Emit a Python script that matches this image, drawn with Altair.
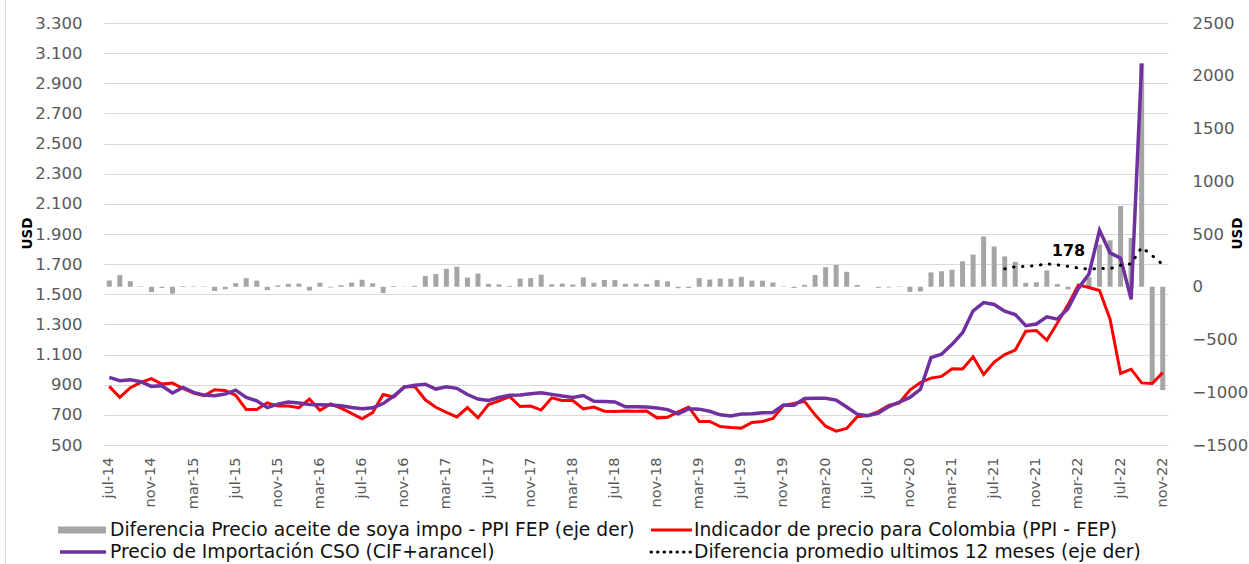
import altair as alt
import pandas as pd

# Meses jul-14 ... nov-22
abrev = ["ene", "feb", "mar", "abr", "may", "jun", "jul", "ago", "sep", "oct", "nov", "dic"]
meses = [f"{abrev[(6 + k) % 12]}-{14 + (6 + k) // 12}" for k in range(101)]
etiquetas = meses[::4]

# Indicador de precio para Colombia (PPI - FEP), USD
ppi_fep = [889, 816, 880, 915, 940, 904, 911, 875, 845, 827,
           867, 862, 830, 735, 735, 780, 758, 758, 748, 805,
           730, 772, 745, 710, 674, 715, 835, 818, 886, 888,
           800, 750, 716, 686, 748, 680, 768, 793, 822, 755,
           758, 732, 813, 795, 795, 740, 752, 724, 722, 726,
           724, 726, 680, 684, 720, 752, 656, 656, 622, 616,
           612, 650, 656, 676, 762, 775, 790, 700, 625, 592,
           610, 688, 695, 722, 762, 780, 865, 915, 944, 955,
           1006, 1004, 1085, 968, 1050, 1100, 1130, 1255, 1260, 1195,
           1310, 1430, 1562, 1545, 1525, 1335, 975, 1003, 912, 908,
           980]

# Precio de Importación CSO (CIF+arancel), USD
cif_arancel = [949, 927, 933, 920, 889, 893, 845, 882, 849, 831,
               827, 838, 864, 816, 793, 748, 771, 785, 778, 769,
               767, 765, 760, 749, 740, 747, 775, 825, 884, 897,
               903, 871, 886, 876, 835, 805, 795, 815, 830, 832,
               840, 847, 836, 825, 816, 828, 790, 788, 786, 754,
               754, 752, 745, 735, 706, 740, 738, 724, 700, 692,
               706, 708, 714, 716, 766, 764, 808, 811, 810, 798,
               752, 705, 694, 712, 755, 784, 816, 870, 1080, 1102,
               1168, 1245, 1390, 1445, 1432, 1388, 1366, 1292, 1303, 1350,
               1335, 1405, 1540, 1635, 1925, 1775, 1740, 1466, 3030, None,
               None]

# Diferencia precio aceite de soya importado - PPI FEP (eje derecho)
diferencia = [60, 111, 53, 5, -51, -11, -66, 7, 4, 4,
              -40, -24, 34, 81, 58, -32, 13, 27, 30, -36,
              37, -7, 15, 39, 66, 32, -60, 7, -2, 9,
              103, 121, 170, 190, 87, 125, 27, 22, 8, 77,
              82, 115, 23, 30, 21, 88, 38, 64, 64, 28,
              30, 26, 65, 51, -14, -12, 82, 68, 78, 76,
              94, 58, 58, 40, 4, -11, 18, 111, 185, 206,
              142, 17, -1, -10, -7, 4, -49, -45, 136, 147,
              162, 241, 305, 477, 382, 288, 236, 37, 43, 155,
              25, -25, -22, 90, 400, 440, 765, 463, 2118, -908,
              -980]

# Diferencia promedio últimos 12 meses (eje derecho), ago-21 ... nov-22
promedio_12m = [170, 190, 193, 201, 217, 208, 194, 178,
                166, 174, 171, 203, 217, 374, 296, 210]
mes_etiqueta = "mar-22"

series = [
    "Diferencia Precio aceite de soya impo - PPI FEP (eje der)",
    "Indicador de precio para Colombia (PPI - FEP)",
    "Precio de Importación CSO (CIF+arancel)",
    "Diferencia promedio ultimos 12 meses (eje der)",
]

df = pd.DataFrame({
    "mes": meses,
    "ppi": ppi_fep,
    "cif": cif_arancel,
    "dif": diferencia,
    "prom": [None] * (len(meses) - len(promedio_12m)) + promedio_12m,
})

W, H = 1064, 422
GRIS_TXT = "#595959"
FUENTE = "DejaVu Sans"


def eje_x(centrado=False):
    extra = {"bandPosition": 0.5} if centrado else {}
    return alt.X(
        "mes:N", sort=meses, title=None,
        scale=alt.Scale(paddingInner=0, paddingOuter=0),
        axis=alt.Axis(values=etiquetas, labelAngle=-90, labelPadding=12,
                      ticks=False, tickSize=0, domain=False, grid=False,
                      labelFont=FUENTE, labelFontSize=14.5, labelColor=GRIS_TXT),
        **extra,
    )


escala_izq = alt.Scale(domain=[500, 3300], nice=False, zero=False)
escala_der = alt.Scale(domain=[-1500, 2500], nice=False)

eje_izq = alt.Axis(
    orient="left", values=list(range(500, 3301, 200)), grid=True,
    gridColor="#D9D9D9", gridWidth=1, ticks=False, tickSize=0, domain=False,
    labelPadding=22, labelFont=FUENTE, labelFontSize=16.5, labelColor=GRIS_TXT,
    labelExpr="replace(format(datum.value, ','), ',', '.')",
    title="USD", titleAngle=-90, titleX=-77, titleY=210, titleAlign="center",
    titleBaseline="middle", titleFont=FUENTE, titleFontSize=13.5,
    titleFontWeight="bold", titleColor="#000000",
)
eje_der = alt.Axis(
    orient="right", values=list(range(-1500, 2501, 500)), grid=False,
    ticks=False, tickSize=0, domain=False, labelPadding=24,
    labelFont=FUENTE, labelFontSize=16.5, labelColor=GRIS_TXT, format="d",
    title="USD", titleAngle=-90, titleX=69, titleY=210, titleAlign="center",
    titleBaseline="middle", titleFont=FUENTE, titleFontSize=13.5,
    titleFontWeight="bold", titleColor="#000000",
)

base = alt.Chart(df)

barras = base.mark_bar(size=5, color="#A5A5A5").encode(
    x=eje_x(), y=alt.Y("dif:Q", scale=escala_der, axis=eje_der)
)
linea_ppi = base.mark_line(color="#FF0000", strokeWidth=3).encode(
    x=eje_x(True), y=alt.Y("ppi:Q", scale=escala_izq, axis=eje_izq)
)
linea_cif = base.mark_line(color="#7030A0", strokeWidth=3.5).encode(
    x=eje_x(True), y=alt.Y("cif:Q", scale=escala_izq, axis=None)
)
linea_prom = base.mark_line(
    color="#000000", strokeWidth=3, strokeDash=[0.5, 8.5], strokeCap="round"
).encode(
    x=eje_x(True), y=alt.Y("prom:Q", scale=escala_der, axis=None)
)
rotulo = base.transform_filter(alt.datum.mes == mes_etiqueta).mark_text(
    dx=-10, dy=-17, font=FUENTE, fontSize=16, fontWeight="bold", color="#000000"
).encode(
    x=eje_x(True), y=alt.Y("prom:Q", scale=escala_der, axis=None),
    text=alt.Text("prom:Q", format=".0f"),
)

# Leyenda inferior (2 x 2)
fila1, fila2 = 507, 529
col1_sim, col1_txt = -46, 6
col2_sim, col2_txt = 547, 590
uno = pd.DataFrame({"k": [0]})


def texto(nombre, x, y):
    return alt.Chart(pd.DataFrame({"nombre": [nombre]})).mark_text(
        align="left", baseline="middle", font=FUENTE, fontSize=18.7,
        color="#111111"
    ).encode(x=alt.value(x), y=alt.value(y), text="nombre:N")


sim_barras = alt.Chart(uno).mark_rect(color="#A5A5A5").encode(
    x=alt.value(col1_sim), x2=alt.value(col1_sim + 48),
    y=alt.value(fila1 - 3.5), y2=alt.value(fila1 + 3.5),
)
sim_ppi = alt.Chart(uno).mark_rule(color="#FF0000", strokeWidth=3).encode(
    x=alt.value(col2_sim), x2=alt.value(col2_sim + 41), y=alt.value(fila1)
)
sim_cif = alt.Chart(uno).mark_rule(color="#7030A0", strokeWidth=3.5).encode(
    x=alt.value(col1_sim + 2), x2=alt.value(col1_sim + 48), y=alt.value(fila2)
)
sim_prom = alt.Chart(uno).mark_rule(
    color="#000000", strokeWidth=3, strokeDash=[0.5, 6], strokeCap="round"
).encode(x=alt.value(col2_sim), x2=alt.value(col2_sim + 42), y=alt.value(fila2))

borde = alt.Chart(uno).mark_rule(color="#D9D9D9", strokeWidth=1).encode(
    x=alt.value(-98.5), y=alt.value(-23), y2=alt.value(H + 119)
)

chart = alt.layer(
    borde, barras, linea_ppi, linea_cif, linea_prom, rotulo,
    sim_barras, sim_ppi, sim_cif, sim_prom,
    texto(series[0], col1_txt, fila1), texto(series[1], col2_txt, fila1),
    texto(series[2], col1_txt, fila2), texto(series[3], col2_txt, fila2),
).resolve_scale(y="independent").properties(
    width=W, height=H,
    padding={"left": 104, "top": 23, "right": 81, "bottom": 119},
    autosize=alt.AutoSizeParams(type="none"),
    background="#FFFFFF",
).configure_view(stroke=None)

chart.save("out.html", embed_options={"renderer": "svg", "actions": False})
